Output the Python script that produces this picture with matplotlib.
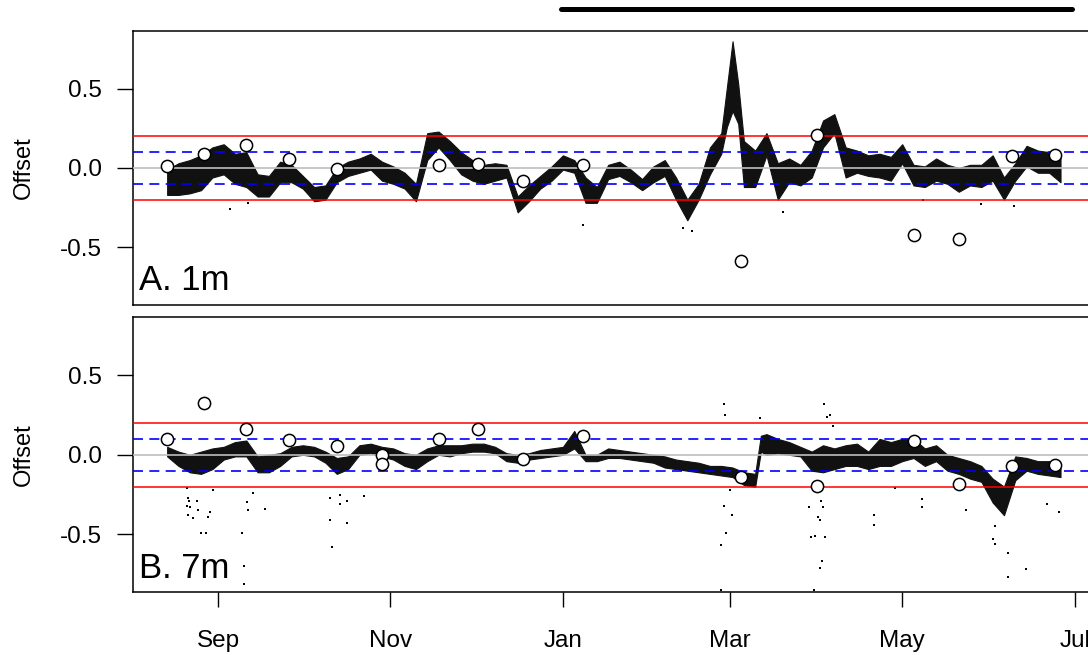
import numpy as np
import matplotlib
matplotlib.use('Agg')
import matplotlib.pyplot as plt
import matplotlib.dates as mdates
from matplotlib.lines import Line2D
from datetime import datetime

plt.rcParams['font.family'] = ['Liberation Sans', 'DejaVu Sans']

# days counted from 1 Aug 2013
start = mdates.date2num(datetime(2013, 8, 1))

# panel A (1m): sampled envelope of the dense offset cloud
days_a = [13, 17, 21, 25, 29, 33, 37, 41, 45, 49, 53, 57, 61, 65, 69, 73, 77, 81,
          85, 89, 93, 97, 101, 105, 109, 113, 117, 121, 125, 129, 133, 137, 141,
          145, 149, 153, 157, 161, 165, 169, 173, 177, 181, 185, 189, 193, 197,
          201, 205, 209, 211, 213, 215, 217, 221, 225, 229, 233, 237, 241, 245,
          249, 253, 257, 261, 265, 269, 273, 277, 281, 285, 289, 293, 297, 301,
          305, 309, 313, 317, 321, 325, 329]
lo_a = [-0.17, -0.17, -0.16, -0.14, -0.06, -0.04, -0.10, -0.12, -0.18, -0.18,
        -0.09, -0.09, -0.13, -0.21, -0.20, -0.09, -0.05, -0.03, -0.01, -0.08,
        -0.10, -0.13, -0.21, 0.05, 0.13, 0.05, -0.04, -0.08, -0.10, -0.08,
        -0.06, -0.28, -0.21, -0.13, -0.08, -0.01, -0.03, -0.22, -0.22, -0.07,
        -0.05, -0.09, -0.14, -0.09, -0.05, -0.20, -0.33, -0.20, -0.04, 0.09,
        0.26, 0.36, 0.28, -0.12, -0.12, 0.08, -0.20, -0.09, -0.11, -0.06, 0.13,
        0.22, -0.06, -0.03, -0.05, -0.06, -0.08, 0.03, -0.11, -0.12, -0.08,
        -0.10, -0.15, -0.11, -0.12, -0.08, -0.20, -0.08, 0.01, -0.03, -0.03, -0.09]
hi_a = [-0.01, 0.03, 0.05, 0.08, 0.13, 0.15, 0.09, 0.10, -0.04, -0.05, 0.04,
        0.02, -0.05, -0.12, -0.11, 0.00, 0.04, 0.06, 0.09, 0.04, 0.01, -0.03,
        -0.10, 0.22, 0.23, 0.17, 0.10, 0.05, 0.02, 0.03, 0.02, -0.18, -0.11,
        -0.05, 0.01, 0.08, 0.05, -0.06, -0.12, 0.02, 0.04, -0.01, -0.07, 0.01,
        0.05, -0.06, -0.20, -0.10, 0.13, 0.22, 0.51, 0.80, 0.53, 0.17, 0.11,
        0.22, 0.03, 0.06, 0.02, 0.11, 0.30, 0.34, 0.13, 0.11, 0.08, 0.09, 0.07,
        0.15, 0.02, 0.01, 0.06, 0.02, 0.00, 0.02, 0.02, 0.08, -0.06, 0.03, 0.14,
        0.11, 0.10, 0.09]
out_days_a = [35.2, 41.7, 160.0, 195.6, 198.5, 230.7, 280.5, 300.9, 312.6]
out_vals_a = [-0.26, -0.22, -0.36, -0.38, -0.40, -0.28, -0.20, -0.23, -0.24]

# panel B (7m)
days_b = [13, 17, 21, 25, 29, 33, 37, 41, 45, 49, 53, 57, 61, 65, 69, 73, 77, 81,
          85, 89, 93, 97, 101, 105, 109, 113, 117, 121, 125, 129, 133, 137, 141,
          145, 149, 153, 157, 161, 165, 169, 173, 177, 181, 185, 189, 193, 197,
          201, 205, 209, 213, 217, 221, 223, 225, 229, 233, 237, 241, 245, 249,
          253, 257, 261, 265, 269, 273, 277, 281, 285, 289, 293, 297, 301, 305,
          309, 313, 317, 321, 325, 329]
lo_b = [-0.01, -0.07, -0.11, -0.12, -0.09, -0.03, -0.01, -0.01, -0.11, -0.11,
        -0.07, -0.01, 0.00, -0.01, -0.05, -0.12, -0.09, 0.00, 0.01, -0.01,
        -0.03, -0.07, -0.09, -0.04, 0.00, -0.01, 0.01, 0.02, 0.02, 0.01, -0.04,
        -0.05, -0.03, -0.02, -0.01, 0.00, 0.04, -0.04, -0.04, -0.02, -0.02,
        -0.03, -0.04, -0.05, -0.08, -0.09, -0.10, -0.11, -0.12, -0.13, -0.14,
        -0.19, -0.20, 0.02, 0.00, 0.01, 0.00, -0.01, -0.10, -0.11, -0.09, -0.07,
        -0.07, -0.09, -0.07, -0.07, -0.04, -0.02, -0.07, -0.04, -0.10, -0.12,
        -0.15, -0.17, -0.30, -0.38, -0.16, -0.10, -0.12, -0.13, -0.14]
hi_b = [0.05, 0.02, 0.00, 0.02, 0.04, 0.05, 0.08, 0.09, -0.01, 0.00, 0.01, 0.05,
        0.06, 0.05, 0.02, -0.02, -0.01, 0.06, 0.07, 0.05, 0.04, 0.01, 0.00, 0.04,
        0.06, 0.06, 0.06, 0.07, 0.07, 0.05, 0.01, 0.00, 0.01, 0.03, 0.04, 0.05,
        0.15, 0.00, 0.00, 0.04, 0.03, 0.02, 0.01, 0.00, -0.01, -0.03, -0.04,
        -0.05, -0.07, -0.07, -0.08, -0.11, -0.12, 0.12, 0.13, 0.10, 0.08, 0.05,
        0.02, 0.06, 0.04, 0.06, 0.07, 0.02, 0.10, 0.08, 0.10, 0.10, 0.04, 0.06,
        0.00, -0.02, -0.04, -0.07, -0.15, -0.20, -0.01, -0.02, -0.04, -0.04, -0.05]
out_days_b = [20.1, 20.5, 20.8, 19.9, 21.1, 20.5, 22.0, 23.4, 24.0, 24.9, 26.7,
              28.2, 27.6, 29.1, 39.4, 40.2, 40.3, 41.1, 41.7, 43.5, 47.6, 70.6,
              70.6, 71.3, 74.1, 74.1, 76.5, 76.5, 82.6, 210.1, 210.4, 208.8,
              210.7, 210.1, 212.1, 212.9, 208.8, 222.6, 241.7, 243.8, 244.5,
              240.7, 242.0, 245.7, 243.2, 245.1, 240.1, 243.8, 245.5, 246.3,
              247.5, 248.5, 244.2, 263.0, 263.0, 280.1, 280.1, 295.5, 305.1,
              305.7, 305.7, 310.3, 310.3, 316.8, 324.2, 328.3, 270.4]
out_vals_b = [-0.21, -0.27, -0.29, -0.32, -0.33, -0.38, -0.40, -0.29, -0.35,
              -0.49, -0.49, -0.36, -0.39, -0.22, -0.49, -0.70, -0.81, -0.30,
              -0.35, -0.24, -0.34, -0.27, -0.41, -0.58, -0.25, -0.31, -0.29,
              -0.43, -0.26, 0.32, 0.25, -0.57, -0.49, -0.32, -0.22, -0.38, -0.85,
              0.23, -0.85, -0.71, -0.67, -0.52, -0.51, -0.52, -0.39, -0.33,
              -0.33, -0.41, 0.32, 0.24, 0.25, 0.18, -0.29, -0.38, -0.44, -0.28,
              -0.33, -0.35, -0.53, -0.56, -0.45, -0.62, -0.77, -0.72, -0.31,
              -0.36, -0.21]

# reference samples (open circles)
samp_days_a = [13, 26, 41, 56, 73, 109, 123, 139, 160, 216, 243, 277, 293, 312, 327]
samp_vals_a = [0.013, 0.086, 0.147, 0.057, -0.004, 0.021, 0.023, -0.084, 0.017,
               -0.586, 0.21, -0.42, -0.449, 0.074, 0.08]
samp_days_b = [13, 26, 41, 56, 73, 89, 89, 109, 123, 139, 160, 216, 243, 277,
               293, 312, 327]
samp_vals_b = [0.099, 0.328, 0.162, 0.095, 0.057, -0.004, -0.06, 0.101, 0.16,
               -0.025, 0.12, -0.139, -0.195, 0.088, -0.183, -0.073, -0.065]

panels = [
    ('A. 1m', days_a, lo_a, hi_a, out_days_a, out_vals_a, samp_days_a, samp_vals_a),
    ('B. 7m', days_b, lo_b, hi_b, out_days_b, out_vals_b, samp_days_b, samp_vals_b),
]

W, H = 1088, 655
fig = plt.figure(figsize=(W / 100, H / 100), dpi=100)
boxes = [(133, 31, 305), (133, 317.3, 592.3)]  # left, top, bottom in px
right_px = 1095

for i, (label, d, lo, hi, od, ov, sd, sv) in enumerate(panels):
    left, top, bot = boxes[i]
    ax = fig.add_axes([left / W, 1 - bot / H, (right_px - left) / W, (bot - top) / H])
    x = start + np.asarray(d, dtype=float)
    ax.fill_between(x, lo, hi, color='#111111', lw=0.8, edgecolor='#111111', zorder=2)
    ax.plot(start + np.asarray(od), ov, 's', color='k', ms=2.0, mew=0, zorder=2)

    ax.axhline(0, color='#bebebe', lw=1.2, zorder=3)
    for v in (0.2, -0.2):
        ax.axhline(v, color='red', lw=1.1, zorder=3)
    for v in (0.1, -0.1):
        ax.axhline(v, color='blue', lw=1.2, ls=(0, (6.0, 3.8)), zorder=3)

    ax.plot(start + np.asarray(sd, dtype=float), sv, 'o', mfc='white', mec='black',
            ms=8.8, mew=1.1, zorder=4)

    ax.set_xlim(start + 0.92, start + 341.2)
    ax.set_ylim(-0.865, 0.865)
    ax.set_yticks([-0.5, 0.0, 0.5])
    ax.set_yticklabels(['-0.5', '0.0', '0.5'])
    ax.set_ylabel('Offset', fontsize=17, labelpad=18)
    ax.tick_params(axis='y', length=11.5, width=1.0, pad=11, labelsize=17.5)
    ax.tick_params(axis='x', length=11, width=1.0, pad=16, labelsize=17.5)
    ax.xaxis.set_major_locator(mdates.MonthLocator(bymonth=[1, 3, 5, 7, 9, 11]))
    ax.xaxis.set_major_formatter(mdates.DateFormatter('%b'))
    if i == 0:
        ax.tick_params(axis='x', bottom=False, labelbottom=False)
    for s in ax.spines.values():
        s.set_linewidth(1.1)
    ax.annotate(label, xy=(0, 0), xycoords='axes fraction', xytext=(4, 10.5),
                textcoords='offset points', ha='left', va='baseline', fontsize=25)

fig.add_artist(Line2D([561 / W, 1072 / W], [1 - 9 / H, 1 - 9 / H], lw=3.6,
                      color='k', solid_capstyle='round'))

fig.savefig('out.png', dpi=100)
